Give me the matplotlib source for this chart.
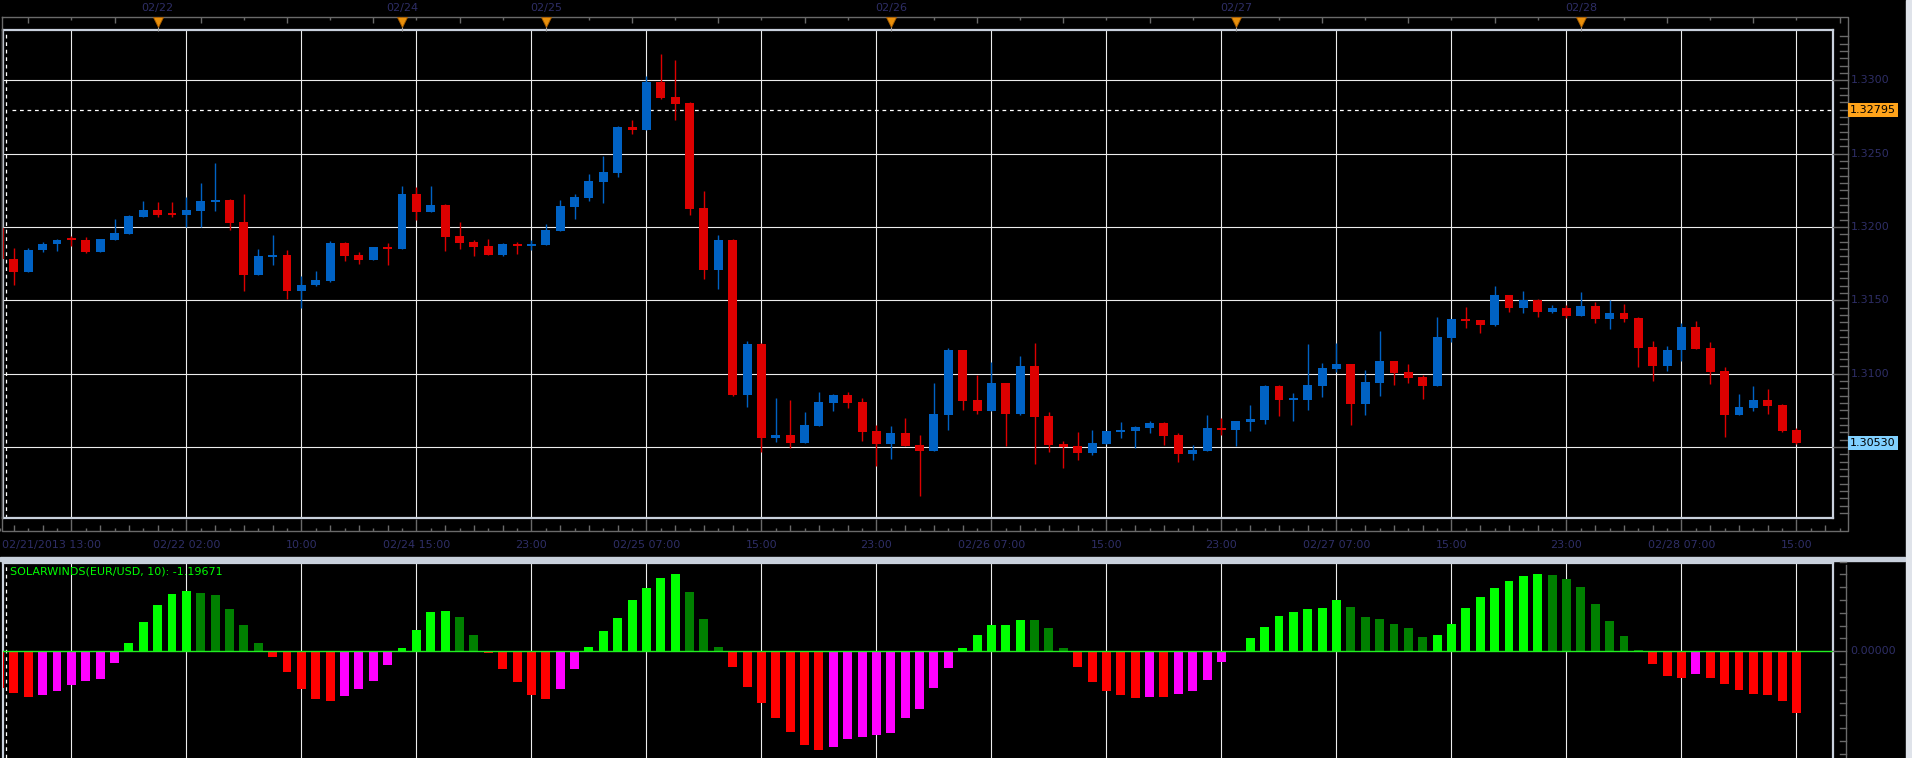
import matplotlib.pyplot as plt
import matplotlib.transforms as mtransforms
from matplotlib.patches import Rectangle
import numpy as np

plt.rcParams['font.family'] = ['DejaVu Sans']

# EUR/USD hourly candles, first candle is cut by the left edge of the chart
opens = [1.3199, 1.31785, 1.31692, 1.31841, 1.31882, 1.31920, 1.31914, 1.31832, 1.31914, 1.31955,
         1.32070, 1.32117, 1.32090, 1.32083, 1.32110, 1.32172, 1.32185, 1.32035, 1.31674, 1.31798,
         1.31811, 1.31561, 1.31602, 1.31633, 1.31892, 1.31811, 1.31777, 1.31865, 1.31851, 1.32226,
         1.32103, 1.32151, 1.31940, 1.31899, 1.31872, 1.31811, 1.31887, 1.31872, 1.31880, 1.31975,
         1.32138, 1.32199, 1.32308, 1.32369, 1.32682, 1.32662, 1.32989, 1.32887, 1.32846, 1.32131,
         1.31708, 1.31914, 1.30856, 1.31205, 1.30564, 1.30582, 1.30527, 1.30646, 1.30801, 1.30856,
         1.30808, 1.30610, 1.30521, 1.30596, 1.30514, 1.30473, 1.30719, 1.31158, 1.30822, 1.30747,
         1.30938, 1.30726, 1.31055, 1.30712, 1.30521, 1.30507, 1.30459, 1.30521, 1.30603, 1.30610,
         1.30630, 1.30664, 1.30582, 1.30452, 1.30473, 1.30630, 1.30616, 1.30671, 1.30685, 1.30918,
         1.30822, 1.30822, 1.30918, 1.31034, 1.31068, 1.30795, 1.30938, 1.31089, 1.31014, 1.30980,
         1.30918, 1.31245, 1.31373, 1.31366, 1.31332, 1.31536, 1.31450, 1.31502, 1.31423, 1.31448,
         1.31395, 1.31461, 1.31375, 1.31414, 1.31380, 1.31185, 1.31055, 1.31158, 1.31315, 1.31178,
         1.31020, 1.30719, 1.30767, 1.30822, 1.30788, 1.30616]
highs = [1.3201, 1.31859, 1.31855, 1.31898, 1.31920, 1.31940, 1.31932, 1.31920, 1.32051, 1.32084,
         1.32180, 1.32167, 1.32167, 1.32203, 1.32303, 1.32437, 1.32192, 1.32226, 1.31851, 1.31947,
         1.31846, 1.31667, 1.31702, 1.31906, 1.31897, 1.31830, 1.31865, 1.31892, 1.32280, 1.32271,
         1.32280, 1.32158, 1.32035, 1.31914, 1.31920, 1.31892, 1.31899, 1.31914, 1.32023, 1.32185,
         1.32226, 1.32362, 1.32485, 1.32689, 1.32730, 1.33029, 1.33179, 1.33138, 1.32853, 1.32246,
         1.31947, 1.31920, 1.31220, 1.31210, 1.30836, 1.30822, 1.30740, 1.30877, 1.30863, 1.30877,
         1.30836, 1.30651, 1.30644, 1.30699, 1.30582, 1.30938, 1.31178, 1.31164, 1.30993, 1.31082,
         1.30938, 1.31123, 1.31212, 1.30740, 1.30541, 1.30603, 1.30616, 1.30610, 1.30671, 1.30644,
         1.30678, 1.30671, 1.30596, 1.30514, 1.30719, 1.30699, 1.30678, 1.30788, 1.30925, 1.30925,
         1.30870, 1.31205, 1.31075, 1.31212, 1.31068, 1.31027, 1.31288, 1.31089, 1.31068, 1.30993,
         1.31386, 1.31373, 1.31455, 1.31366, 1.31598, 1.31536, 1.31564, 1.31509, 1.31468, 1.31468,
         1.31557, 1.31489, 1.31502, 1.31475, 1.31384, 1.31226, 1.31192, 1.31342, 1.31356, 1.31219,
         1.31048, 1.30863, 1.30918, 1.30897, 1.30795, 1.30630]
lows = [1.3176, 1.31603, 1.31692, 1.31830, 1.31834, 1.31869, 1.31823, 1.31828, 1.31914, 1.31955,
        1.32065, 1.32070, 1.32070, 1.32003, 1.32003, 1.32112, 1.31981, 1.31561, 1.31674, 1.31742,
        1.31508, 1.31450, 1.31595, 1.31622, 1.31770, 1.31751, 1.31777, 1.31742, 1.31851, 1.32049,
        1.32099, 1.31838, 1.31851, 1.31804, 1.31811, 1.31804, 1.31818, 1.31846, 1.31880, 1.31975,
        1.32056, 1.32179, 1.32165, 1.32342, 1.32635, 1.32662, 1.32873, 1.32730, 1.32083, 1.31647,
        1.31579, 1.30850, 1.30774, 1.30468, 1.30537, 1.30495, 1.30527, 1.30646, 1.30747, 1.30763,
        1.30541, 1.30372, 1.30420, 1.30507, 1.30167, 1.30473, 1.30616, 1.30753, 1.30726, 1.30747,
        1.30507, 1.30719, 1.30384, 1.30466, 1.30356, 1.30411, 1.30445, 1.30521, 1.30562, 1.30493,
        1.30596, 1.30514, 1.30397, 1.30411, 1.30473, 1.30582, 1.30507, 1.30610, 1.30658, 1.30712,
        1.30678, 1.30753, 1.30842, 1.31014, 1.30651, 1.30719, 1.30849, 1.30925, 1.30938, 1.30829,
        1.30918, 1.31219, 1.31311, 1.31277, 1.31325, 1.31423, 1.31414, 1.31389, 1.31414, 1.31382,
        1.31395, 1.31348, 1.31307, 1.31355, 1.31048, 1.30952, 1.31021, 1.31089, 1.31171, 1.30932,
        1.30569, 1.30719, 1.30747, 1.30726, 1.30603, 1.30521]
closes = [1.3178, 1.31692, 1.31846, 1.31887, 1.31914, 1.31910, 1.31832, 1.31920, 1.31960, 1.32076,
          1.32117, 1.32083, 1.32083, 1.32117, 1.32178, 1.32185, 1.32028, 1.31674, 1.31804, 1.31809,
          1.31561, 1.31606, 1.31640, 1.31892, 1.31804, 1.31777, 1.31865, 1.31851, 1.32226, 1.32103,
          1.32151, 1.31933, 1.31892, 1.31865, 1.31811, 1.31887, 1.31872, 1.31887, 1.31981, 1.32145,
          1.32206, 1.32314, 1.32376, 1.32682, 1.32662, 1.32989, 1.32880, 1.32839, 1.32124, 1.31708,
          1.31914, 1.30856, 1.31205, 1.30564, 1.30582, 1.30527, 1.30651, 1.30808, 1.30856, 1.30801,
          1.30603, 1.30521, 1.30596, 1.30507, 1.30473, 1.30726, 1.31158, 1.30815, 1.30747, 1.30938,
          1.30726, 1.31055, 1.30705, 1.30514, 1.30500, 1.30459, 1.30527, 1.30610, 1.30616, 1.30637,
          1.30664, 1.30575, 1.30452, 1.30480, 1.30630, 1.30616, 1.30678, 1.30692, 1.30918, 1.30822,
          1.30836, 1.30925, 1.31041, 1.31068, 1.30795, 1.30945, 1.31089, 1.31007, 1.30973, 1.30918,
          1.31253, 1.31373, 1.31359, 1.31332, 1.31536, 1.31450, 1.31502, 1.31423, 1.31448, 1.31395,
          1.31461, 1.31375, 1.31414, 1.31375, 1.31178, 1.31055, 1.31164, 1.31315, 1.31171, 1.31014,
          1.30719, 1.30774, 1.30822, 1.30781, 1.30610, 1.30530]

# SOLARWINDS(EUR/USD, 10) histogram, one value per candle
solarwinds = [-0.720, -0.813, -0.891, -0.852, -0.774, -0.657, -0.579, -0.540, -0.228, 0.163,
              0.573, 0.904, 1.119, 1.178, 1.139, 1.100, 0.826, 0.514, 0.163, -0.111,
              -0.403, -0.735, -0.931, -0.970, -0.872, -0.735, -0.579, -0.267, 0.065, 0.416,
              0.768, 0.787, 0.670, 0.319, -0.033, -0.345, -0.599, -0.852, -0.931, -0.735,
              -0.345, 0.085, 0.397, 0.651, 1.002, 1.236, 1.432, 1.510, 1.158, 0.631,
              0.085, -0.306, -0.696, -1.009, -1.301, -1.575, -1.828, -1.926, -1.868, -1.711,
              -1.672, -1.633, -1.594, -1.301, -1.126, -0.716, -0.325, 0.065, 0.319, 0.510,
              0.520, 0.612, 0.605, 0.455, 0.065, -0.306, -0.599, -0.774, -0.852, -0.911,
              -0.891, -0.895, -0.833, -0.774, -0.560, -0.208, -0.020, 0.260, 0.475, 0.690,
              0.768, 0.826, 0.846, 1.002, 0.865, 0.670, 0.631, 0.534, 0.455, 0.280,
              0.319, 0.534, 0.846, 1.061, 1.236, 1.373, 1.471, 1.510, 1.490, 1.412,
              1.256, 0.924, 0.592, 0.299, 0.026, -0.247, -0.482, -0.521, -0.442, -0.521,
              -0.638, -0.755, -0.833, -0.852, -0.970, -1.19671]

time_labels = ['02/21/2013 13:00', '02/22 02:00', '10:00', '02/24 15:00', '23:00', '02/25 07:00',
               '15:00', '23:00', '02/26 07:00', '15:00', '23:00', '02/27 07:00', '15:00', '23:00',
               '02/28 07:00', '15:00']
day_labels = ['02/22', '02/24', '02/25', '02/26', '02/27', '02/28']
day_start = [10, 27, 37, 61, 85, 109]
price_levels = [1.3050, 1.3100, 1.3150, 1.3200, 1.3250, 1.3300]
last_quote = 1.32795

BLUE, RED = '#0062c4', '#dd0000'
LBL = '#2e2e66'
FRAME = '#c9d1dd'
GRID = '#ececec'
W, H = 1912, 758

fig = plt.figure(figsize=(W / 100, H / 100), dpi=100, facecolor='black')


def px_box(left, top, right, bottom):
    return [left / W, 1 - bottom / H, (right - left) / W, (bottom - top) / H]


ax = fig.add_axes(px_box(3, 30, 1833, 518), facecolor='black')
ax2 = fig.add_axes(px_box(3, 563, 1833, 758), facecolor='black')

x = np.arange(len(opens)) - 1
o, hi, lo, c = map(np.array, (opens, highs, lows, closes))
grid_pos = np.arange(4, len(opens), 8)

# candles
col = np.where(c >= o, BLUE, RED)
ax.vlines(x, lo, hi, colors=col, lw=1.0, zorder=3)
ax.bar(x, np.maximum(np.abs(c - o), 0.00012), bottom=np.minimum(o, c), width=0.62,
       color=col, lw=0, zorder=4)
ax.axhline(last_quote, xmin=0.005, color='white', lw=0.9, ls=(0, (3, 3)), zorder=2)

# histogram colours: rising / falling above and below zero
sw = np.array(solarwinds)
prev = np.concatenate([[np.inf], sw[:-1]])
rising = sw > prev
hcol = np.where(sw >= 0, np.where(rising, '#00ff00', '#008000'),
                np.where(rising, '#ff00ff', '#ff0000'))
ax2.bar(x, sw, width=0.62, color=hcol, lw=0, zorder=3)
ax2.axhline(0, color='#22ee22', lw=1.0, zorder=4)

ax.set_xlim(-0.758, 126.54)
ax2.set_xlim(-0.758, 126.54)
ax.set_ylim(1.30016, 1.333429)
ax2.set_ylim(-2.0828, 1.7236)

for a in (ax, ax2):
    a.set_xticks(grid_pos)
    a.tick_params(length=0, labelbottom=False, labelleft=False)
    a.grid(axis='x', color=GRID, lw=0.8)
    a.set_axisbelow(True)
    a.axvline(-0.55, color='white', lw=0.9, ls=(0, (3, 3)), zorder=2)
    for s in a.spines.values():
        s.set_color(FRAME)
        s.set_linewidth(1.6)
ax.set_yticks(price_levels)
ax.grid(axis='y', color=GRID, lw=0.8)
ax2.set_yticks([])
ax2.spines['bottom'].set_visible(False)

# overlay in pixel units for the scales around the panels
ov = fig.add_axes([0, 0, 1, 1])
ov.set_xlim(0, W)
ov.set_ylim(H, 0)
ov.axis('off')
tr_x = mtransforms.blended_transform_factory(ax.transData, ov.transData)
tr_y = mtransforms.blended_transform_factory(ov.transData, ax.transData)
tr_y2 = mtransforms.blended_transform_factory(ov.transData, ax2.transData)

ov.plot([2, 1848, 1848, 2, 2], [17, 17, 531, 531, 17], color='#6a6a6a', lw=1)
ov.add_patch(Rectangle((0, 556.5), 1905, 4.5, color='#c8d0dc'))
ov.add_patch(Rectangle((1906, 0), 6, H, color='#dfe3ea'))

# top date strip
top_ticks = np.arange(1, 128, 3)
ov.vlines(top_ticks, 17, np.where(top_ticks % 6 == 1, 23, 20), colors='#6a6a6a', lw=1,
          transform=tr_x)
ov.vlines(day_start, 17, 31, colors='#a0a0a0', lw=0.8, transform=tr_x)
ov.plot(day_start, [22] * len(day_start), 'v', ms=7, color='#e8900c', mec='#a85c00',
        mew=0.6, transform=tr_x)
for pos, lab in zip(day_start, day_labels):
    ov.text(pos, 8, lab, transform=tr_x, ha='center', va='center', color=LBL, fontsize=8)

# bottom time axis
bt = np.arange(-1, 128)
blen = np.where(np.isin(bt, grid_pos), 12, np.where(bt % 2 == 0, 6, 3))
ov.vlines(bt, 531 - blen, 531, colors='#6a6a6a', lw=1, transform=tr_x)
for i, (pos, lab) in enumerate(zip(grid_pos, time_labels)):
    if i == 0:
        ov.text(-0.8, 545, lab, transform=tr_x, ha='left', va='center', color=LBL, fontsize=8)
    else:
        ov.text(pos, 545, lab, transform=tr_x, ha='center', va='center', color=LBL, fontsize=8)

# price scale (the 1.3050 label sits under the last-close box)
for p in np.arange(1.3005, 1.3335, 0.0005):
    major = abs(p / 0.005 - round(p / 0.005)) < 1e-6
    ov.plot([1833 if major else 1840, 1848], [p, p], color='#6a6a6a', lw=1, transform=tr_y)
for p in price_levels:
    if abs(p - closes[-1]) > 0.0003:
        ov.text(1851, p, f'{p:.4f}', transform=tr_y, va='center', color=LBL, fontsize=8)
ov.text(1850, last_quote, f'{last_quote:.5f}', transform=tr_y, va='center', color='black',
        fontsize=8, bbox=dict(boxstyle='square,pad=0.18', fc='#ffa31a', ec='none'))
ov.text(1850, closes[-1], f'{closes[-1]:.5f}', transform=tr_y, va='center', color='black',
        fontsize=8, bbox=dict(boxstyle='square,pad=0.18', fc='#80d0ff', ec='none'))

# indicator scale
ov.plot([1846.5, 1846.5], [565, H], color='#6a6a6a', lw=1)
for v in np.arange(-2.0, 1.76, 0.25):
    ov.plot([1833 if v == 0 else 1840, 1846.5], [v, v], color='#6a6a6a', lw=1, transform=tr_y2)
ov.text(1850, 0, '0.00000', transform=tr_y2, va='center', color=LBL, fontsize=8)
ov.text(10.5, 572, f'SOLARWINDS(EUR/USD, 10): {solarwinds[-1]:.5f}', color='#00ff00',
        fontsize=8, va='center')

fig.savefig('out.png', dpi=100, facecolor='black')
